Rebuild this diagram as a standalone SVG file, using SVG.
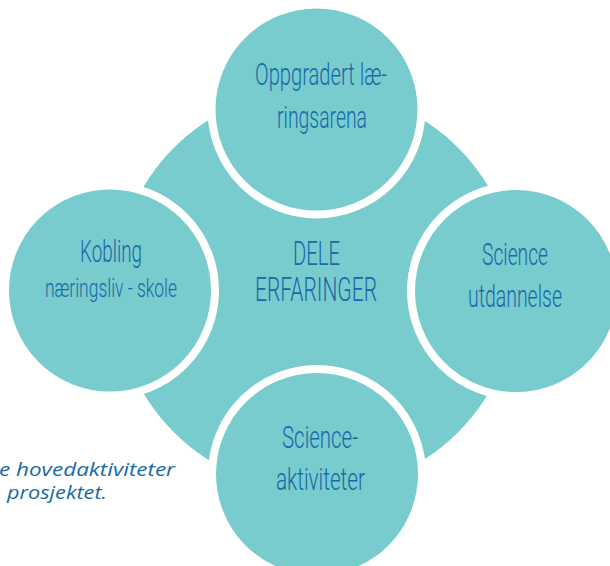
<svg xmlns="http://www.w3.org/2000/svg" width="610" height="566" viewBox="0 0 610 566">
<style>
.bg{fill:#ffffff}
.hub{fill:#79cccd}
.node{fill:#79cccd;stroke:#ffffff;stroke-width:8}
.t{font-family:Roboto,"Liberation Sans",sans-serif;fill:#1769a8;text-anchor:middle;font-weight:300}
.cap{font-family:"Open Sans","Liberation Sans",sans-serif;font-style:italic;fill:#1769a8;font-size:18px;font-weight:500}
</style>
<rect class="bg" x="0" y="0" width="610" height="566"/>
<g id="hub">
<circle class="hub" cx="316" cy="290" r="201"/>
<text class="t" x="316.5" y="265" font-size="33" textLength="47" lengthAdjust="spacingAndGlyphs">DELE</text>
<text class="t" x="316" y="301" font-size="33" textLength="122" lengthAdjust="spacingAndGlyphs">ERFARINGER</text>
</g>
<g id="connectors"></g>
<g id="node-top">
<circle class="node" cx="316.5" cy="109.5" r="105"/>
<text class="t" x="321" y="85" font-size="31" textLength="132" lengthAdjust="spacingAndGlyphs">Oppgradert læ-</text>
<text class="t" x="322" y="128" font-size="31" textLength="90" lengthAdjust="spacingAndGlyphs">ringsarena</text>
</g>
<g id="node-left">
<circle class="node" cx="110" cy="290.5" r="105"/>
<text class="t" x="111" y="262" font-size="32" textLength="62" lengthAdjust="spacingAndGlyphs">Kobling</text>
<text class="t" x="111" y="297" font-size="26" textLength="132" lengthAdjust="spacingAndGlyphs">næringsliv - skole</text>
</g>
<g id="node-right">
<circle class="node" cx="516" cy="291" r="105"/>
<text class="t" x="515" y="265" font-size="31" textLength="66" lengthAdjust="spacingAndGlyphs">Science</text>
<text class="t" x="515" y="307" font-size="31" textLength="94" lengthAdjust="spacingAndGlyphs">utdannelse</text>
</g>
<g id="node-bottom">
<circle class="node" cx="317" cy="474" r="105"/>
<text class="t" x="320" y="448" font-size="31" textLength="76" lengthAdjust="spacingAndGlyphs">Science-</text>
<text class="t" x="320.5" y="490" font-size="31" textLength="89" lengthAdjust="spacingAndGlyphs">aktiviteter</text>
</g>
<g id="caption">
<text class="cap" x="-1" y="476" textLength="176" lengthAdjust="spacingAndGlyphs">e hovedaktiviteter</text>
<text class="cap" x="7" y="499" textLength="100" lengthAdjust="spacingAndGlyphs">prosjektet.</text>
</g>
</svg>
